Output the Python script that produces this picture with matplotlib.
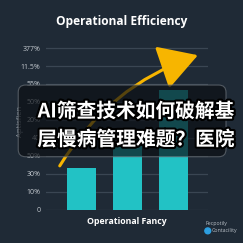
import numpy as np
import matplotlib
matplotlib.use("Agg")
import matplotlib.pyplot as plt
import matplotlib.patheffects as pe
from matplotlib.patches import FancyBboxPatch

# chart data (in tick-step units)
categories = ["A", "B", "C"]
bar_values = [2.33, 3.8, 6.67]
tick_labels = ["0", "10%", "30%", "50%", "40", "20%", "50%", "55%", "11.5%", "377%"]
arrow_start = (-0.47, 2.45)
arrow_end = (2.53, 8.6)

title = "Operational Efficiency"
xlabel = "Operational Fancy"
ylabel = "Aptisfien"
overlay_lines = ["AI筛查技术如何破解基", "层慢病管理难题？医院"]
legend_items = ["Fecpotily", "Contacility"]

bg = "#1f2a36"
teal = "#22c2c5"
grid_c = "#3a4653"
orange = "#f7b500"

fig = plt.figure(figsize=(2.43, 2.43), dpi=100, facecolor=bg)
ax = fig.add_axes([0.189, 0.136, 0.667, 0.699], facecolor=bg)

x = np.arange(len(categories))
ax.bar(x, bar_values, width=0.63, color=teal, zorder=2)
ax.set_xlim(-0.77, 2.75)
ax.set_ylim(0, 9.44)
ax.set_yticks(range(len(tick_labels)))
ax.set_yticklabels(tick_labels, fontsize=5, color="#c3c9cf", family="Open Sans")
ax.set_xticks([])
ax.tick_params(axis="y", length=0, pad=4)
ax.grid(axis="y", color=grid_c, linewidth=0.9, zorder=0)
for s in ax.spines.values():
    s.set_visible(False)

ax.set_xlabel(xlabel, fontsize=6.3, color="white", fontweight="bold",
              family="Open Sans", labelpad=5)
ax.set_ylabel(ylabel, fontsize=5.5, color="#8a939c", labelpad=6, family="Open Sans")
ax.yaxis.set_label_coords(-0.137, 0.52)

# curved trend arrow
ax.annotate("", xy=arrow_end, xytext=arrow_start,
            arrowprops=dict(arrowstyle="-|>,head_length=2.4,head_width=1.4",
                            color=orange, lw=2.2, mutation_scale=10,
                            connectionstyle="arc3,rad=-0.18",
                            shrinkA=0, shrinkB=0),
            zorder=3)

fig.text(0.5, 0.913, title, ha="center", va="center", fontsize=8.6,
         color="white", fontweight="bold", family="Open Sans")

# dark rounded overlay box with caption
box = FancyBboxPatch((0.075, 0.355), 0.855, 0.295,
                     boxstyle="round,pad=0,rounding_size=0.03",
                     transform=fig.transFigure, facecolor="#0b0f14",
                     alpha=0.68, edgecolor="#6d747b", linewidth=0.8, zorder=5)
fig.patches.append(box)
for i, line in enumerate(overlay_lines):
    fig.text(0.56, 0.54 - i * 0.115, line, ha="center", va="center",
             fontsize=14.2, color="white", fontweight="bold",
             family=["Noto Sans CJK SC", "DejaVu Sans"], zorder=6,
             path_effects=[pe.withStroke(linewidth=3, foreground="black")])

# small legend bottom right
fig.text(0.845, 0.082, legend_items[0], fontsize=3.8, color="#b9c0c7",
         family="Open Sans", va="center")
fig.patches.append(plt.Circle((0.855, 0.05), 0.012, transform=fig.transFigure,
                              color="#2d9fe0", zorder=6))
fig.text(0.872, 0.05, legend_items[1], fontsize=3.8, color="#b9c0c7",
         family="Open Sans", va="center")

fig.savefig("out.png", dpi=100, facecolor=bg)
